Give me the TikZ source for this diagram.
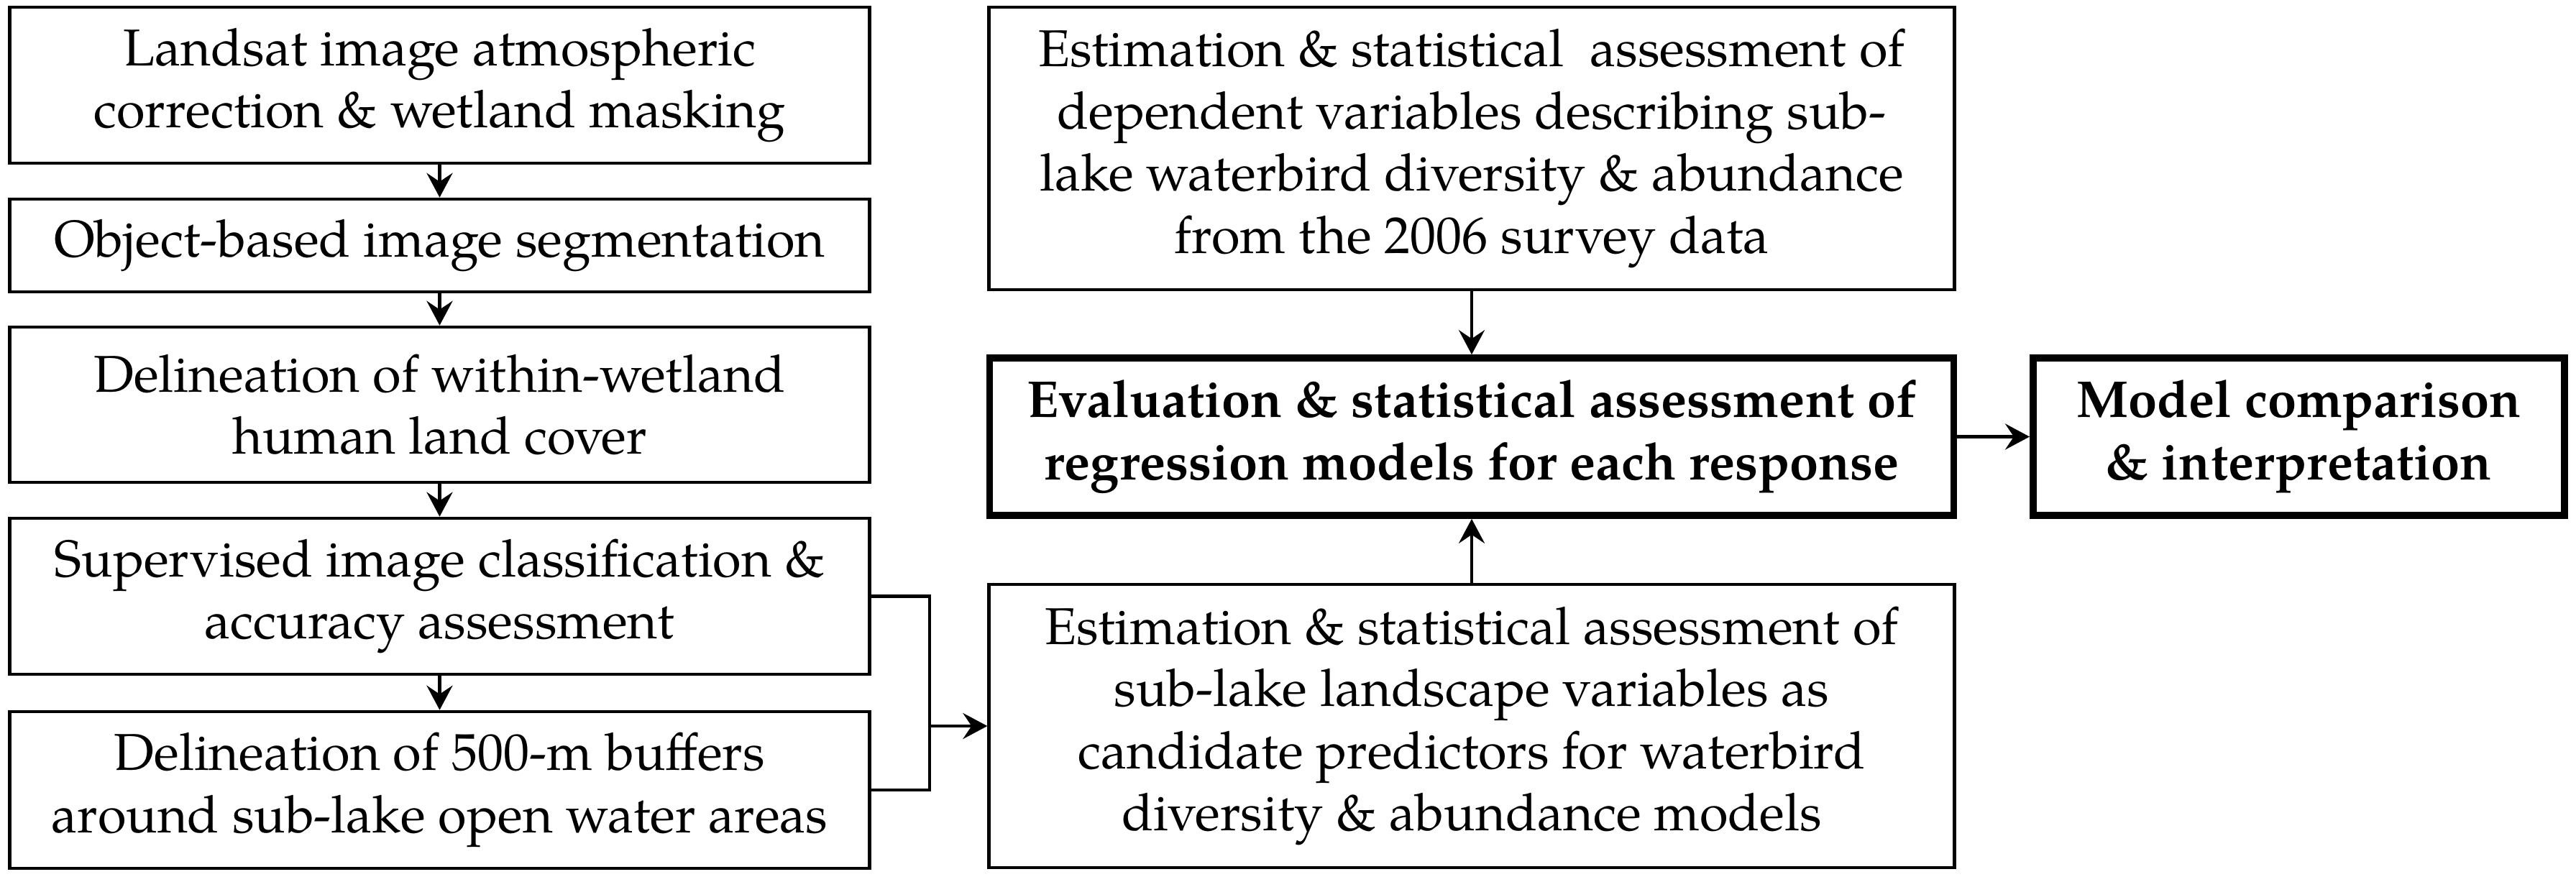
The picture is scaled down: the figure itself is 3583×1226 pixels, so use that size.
\documentclass[tikz,border=0pt]{standalone}
\usepackage{fontspec}
\setmainfont{TeX Gyre Pagella}
\usetikzlibrary{arrows.meta}
\tikzset{
  box/.style={draw, line width=1.28pt, rectangle, inner sep=0pt, align=center,
    font=\fontsize{20.5pt}{24.6pt}\selectfont},
  thickbox/.style={box, line width=2.7pt, font=\fontsize{20.5pt}{24.6pt}\selectfont\bfseries},
  conn/.style={line width=1.28pt},
  arr/.style={conn, -{Stealth[length=0.34cm,width=0.36cm,inset=0.12cm]}}
}
\begin{document}
\begin{tikzpicture}[x=0.01cm,y=-0.01cm]
\useasboundingbox (0,0) rectangle (3583,1226);
% left column
\node[box, minimum width=11.95cm, minimum height=2.17cm] (B1) at (611.5,118.5)
  {Landsat image atmospheric\\correction \& wetland masking};
\node[box, minimum width=11.95cm, minimum height=1.29cm] (B2) at (611.5,341.5)
  {Object-based image segmentation};
\node[box, minimum width=11.95cm, minimum height=2.16cm] (B3) at (611.5,563)
  {Delineation of within-wetland\\human land cover};
\node[box, minimum width=11.95cm, minimum height=2.17cm] (B4) at (611.5,829.5)
  {Supervised image classification \&\\accuracy assessment};
\node[box, minimum width=11.95cm, minimum height=2.18cm] (B5) at (611.5,1099)
  {Delineation of 500-m buffers\\around sub-lake open water areas};
% middle column
\node[box, minimum width=13.42cm, minimum height=3.93cm] (T) at (2047,206.5)
  {Estimation \& statistical~ assessment of\\dependent variables describing sub-\\lake waterbird diversity \& abundance\\from the 2006 survey data};
\node[thickbox, minimum width=13.40cm, minimum height=2.19cm] (M) at (2047,607.5)
  {Evaluation \& statistical assessment of\\regression models for each response};
\node[box, minimum width=13.42cm, minimum height=3.94cm] (P) at (2047,1010)
  {Estimation \& statistical assessment of\\sub-lake landscape variables as\\candidate predictors for waterbird\\diversity \& abundance models};
% right
\node[thickbox, minimum width=7.39cm, minimum height=2.19cm] (C) at (3197.5,607.5)
  {Model comparison\\\& interpretation};
\coordinate (J) at (1293,1010);
% connectors
\draw[arr] (B1) -- (B2);
\draw[arr] (B2) -- (B3);
\draw[arr] (B3) -- (B4);
\draw[arr] (B4) -- (B5);
\draw[conn] (B4.east) -| (J);
\draw[conn] (B5.east) -| (J);
\draw[arr] (J) -- (P.west);
\draw[arr] (T) -- (M);
\draw[arr] (P) -- (M);
\draw[arr] (M) -- (C);
\end{tikzpicture}
\end{document}
